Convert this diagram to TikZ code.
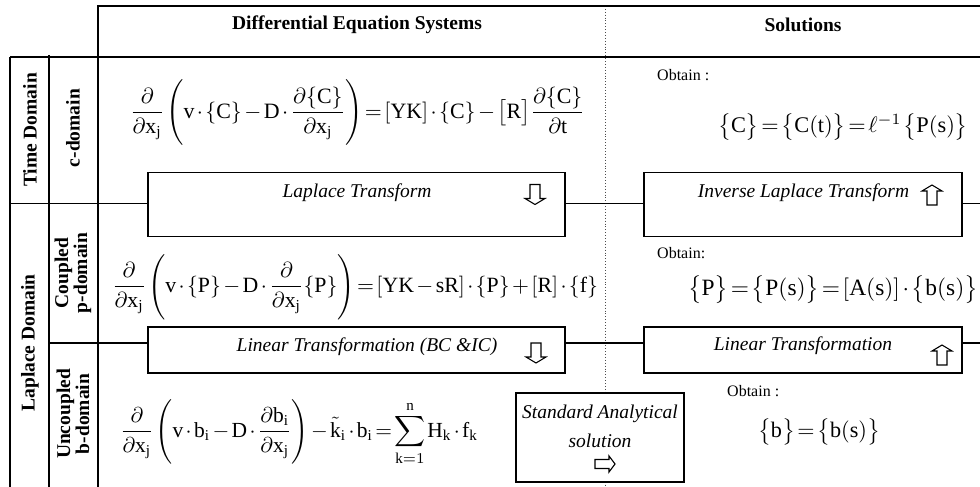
\documentclass[tikz,border=0pt]{standalone}
\usepackage{fontspec}
\setmainfont{Liberation Serif}
\usepackage{graphicx}
\newcommand\rr[1]{\mathrm{#1}}
\newcommand\tight{\medmuskip=2mu\thickmuskip=2mu\thinmuskip=1.5mu}
\newcommand\pstrut{\vrule height 1.75em depth 1.35em width 0pt}
\begin{document}
\begin{tikzpicture}[x=1pt,y=-1pt,
  grid/.style={line width=1.6pt},
  conn/.style={line width=1.3pt},
  tbox/.style={draw, line width=1.6pt, fill=white, inner sep=0},
  lbl/.style={inner sep=0, font=\fontsize{19.5}{19}\selectfont\bfseries, align=center},
  itl/.style={inner sep=0, font=\fontsize{19.5}{29}\selectfont\itshape, align=center},
  obt/.style={inner sep=0, anchor=west, font=\fontsize{16}{18}\selectfont},
  eqn/.style={inner sep=0},
  barrow/.style={line width=1.1pt, fill=white},
  downarr/.pic={\draw[barrow] (-5,-10)--(5,-10)--(5,4)--(10,4)--(0,10)--(-10,4)--(-5,4)--cycle;},
  uparr/.pic={\draw[barrow] (-5,10)--(5,10)--(5,-4)--(10,-4)--(0,-10)--(-10,-4)--(-5,-4)--cycle;},
  rightarr/.pic={\draw[barrow] (-10,-4.5)--(-10,4.5)--(4,4.5)--(4,8)--(10,0)--(4,-8)--(4,-4.5)--cycle;}]
\useasboundingbox (0,0) rectangle (980,487);
% dotted divider
\coordinate (dtop) at (605,6);
\coordinate (dbot) at (605,487);
\draw[dotted, line width=0.9pt, black!70] (dtop) -- (dbot);
% table frame
\draw[grid] (98,487) -- (98,6) -- (980,6);
\draw[grid] (10,57) -- (980,57);
\draw[grid] (10,57) -- (10,487);
\draw[grid] (49,55) -- (49,487);
% headers
\node[lbl] (hdes) at (357,25) {Differential Equation Systems};
\node[lbl] (hsol) at (803,25) {Solutions};
% side labels
\node[lbl, rotate=90] (ltime) at (30,130) {Time Domain};
\node[lbl, rotate=90] (llap) at (30,343) {Laplace Domain};
\node[lbl, rotate=90] (lc) at (73,128) {c-domain};
\node[lbl, rotate=90] (lp) at (73,273) {Coupled\\p-domain};
\node[lbl, rotate=90] (lb) at (73,414) {Uncoupled\\b-domain};
% row coordinates
\coordinate (r1a) at (10,203.3);
\coordinate (r1b) at (980,203.3);
\coordinate (r2a) at (49,343);
\coordinate (r2b) at (980,343);
% boxes
\node[tbox, minimum width=417, minimum height=64] (lt) at (356.5,204.5) {};
\node[tbox, minimum width=318, minimum height=64] (ilt) at (803,204.5) {};
\node[tbox, minimum width=417, minimum height=46] (lbt) at (356.5,349.7) {};
\node[tbox, minimum width=318, minimum height=46] (rlt) at (803,349.7) {};
% connectors
\draw[grid] (r1a) -- (lt.west |- r1a);
\draw[conn] (lt.east |- r1a) -- (ilt.west |- r1a);
\draw[conn] (ilt.east |- r1a) -- (r1b);
\draw[grid] (r2a) -- (lbt.west |- r2a);
\draw[conn] (lbt.east |- r2a) -- (rlt.west |- r2a);
\draw[conn] (rlt.east |- r2a) -- (r2b);
% standard analytical solution box
\node[tbox, minimum width=168, minimum height=89] (std) at (600,437.5) {};
\node[itl] (stdt) at (600,426) {Standard Analytical\\solution};
\pic at (605,464) {rightarr};
% box texts
\node[itl] (ltt) at (357,193) {Laplace Transform};
\pic at (535,194.5) {downarr};
\node[itl] (iltt) at (803.5,193) {Inverse Laplace Transform};
\pic at (932,195) {uparr};
\node[itl] (lbtt) at (367,347) {Linear Transformation (BC \&IC)};
\pic at (536,353) {downarr};
\node[itl] (rltt) at (803,346) {Linear Transformation};
\pic at (942,355) {uparr};
% equations
\node[eqn] (eq1) at (357.5,114) {\resizebox{455pt}{!}{$\tight\displaystyle \frac{\partial}{\partial \rr{x}_{\rr{j}}}\left(\pstrut\rr{v}\cdot\{\rr{C}\}-\rr{D}\cdot\frac{\partial\{\rr{C}\}}{\partial \rr{x}_{\rr{j}}}\right)=[\rr{YK}]\cdot\{\rr{C}\}-\bigl[\rr{R}\bigr]\frac{\partial\{\rr{C}\}}{\partial\rr{t}}$}};
\node[eqn] (eq2) at (355,288) {\resizebox{486pt}{!}{$\tight\displaystyle \frac{\partial}{\partial \rr{x}_{\rr{j}}}\left(\pstrut\rr{v}\cdot\{\rr{P}\}-\rr{D}\cdot\frac{\partial}{\partial \rr{x}_{\rr{j}}}\{\rr{P}\}\right)=[\rr{YK}-\rr{sR}]\cdot\{\rr{P}\}+[\rr{R}]\cdot\{\rr{f}\}$}};
\node[eqn] (eq3) at (299,433) {\resizebox{358pt}{!}{$\tight\displaystyle \frac{\partial}{\partial \rr{x}_{\rr{j}}}\left(\pstrut\rr{v}\cdot\rr{b}_{\rr{i}}-\rr{D}\cdot\frac{\partial\rr{b}_{\rr{i}}}{\partial \rr{x}_{\rr{j}}}\right)-\tilde{\rr{k}}_{\rr{i}}\cdot\rr{b}_{\rr{i}}=\sum_{\rr{k}=1}^{\rr{n}}\rr{H}_{\rr{k}}\cdot\rr{f}_{\rr{k}}$}};
\node[obt] (ob1) at (657,75) {Obtain :};
\node[eqn] (sol1) at (843,127) {\resizebox{250pt}{!}{$\tight\bigl\{\rr{C}\bigr\}=\bigl\{\rr{C(t)}\bigr\}=\ell^{-1}\,\bigl\{\rr{P(s)}\bigr\}$}};
\node[obt] (ob2) at (657,253) {Obtain:};
\node[eqn] (sol2) at (833,290) {\resizebox{290pt}{!}{$\tight\bigl\{\rr{P}\bigr\}=\bigl\{\rr{P(s)}\bigr\}=[\rr{A(s)}]\cdot\bigl\{\rr{b(s)}\bigr\}$}};
\node[obt] (ob3) at (727,391) {Obtain :};
\node[eqn] (sol3) at (819,432) {\resizebox{122pt}{!}{$\tight\bigl\{\rr{b}\bigr\}=\bigl\{\rr{b(s)}\bigr\}$}};
\end{tikzpicture}
\end{document}
